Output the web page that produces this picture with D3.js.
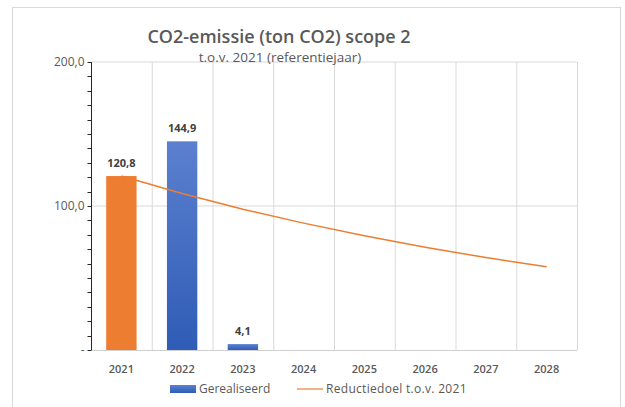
<!DOCTYPE html>
<html>
<head>
<meta charset="utf-8">
<script src="https://cdn.jsdelivr.net/npm/d3@7"></script>
<style>
  html, body { margin: 0; padding: 0; background: #fff; }
  svg { display: block; font-family: "Open Sans", "DejaVu Sans", sans-serif; }
</style>
</head>
<body>
<div id="chart"></div>
<script>
// chart data
const years = ['2021', '2022', '2023', '2024', '2025', '2026', '2027', '2028'];
const realised = [120.8, 144.9, 4.1, null, null, null, null, null];
const target = [120.8, 108.7, 97.8, 88.1, 79.3, 71.3, 64.2, 57.8];
const yTicks = [0, 100, 200];
const yMinorTicks = d3.range(0, 201, 10);

const W = 625, H = 407;
const margin = { top: 62, right: 48, bottom: 57, left: 91 };
const w = W - margin.left - margin.right;
const h = H - margin.top - margin.bottom;

const svg = d3.select('#chart').append('svg')
    .attr('width', W)
    .attr('height', H);

// blue bar gradient
const defs = svg.append('defs');
const grad = defs.append('linearGradient')
    .attr('id', 'blueGrad')
    .attr('x1', 0).attr('y1', 0).attr('x2', 0).attr('y2', 1);
grad.append('stop').attr('offset', '0%').attr('stop-color', '#5b80cf');
grad.append('stop').attr('offset', '100%').attr('stop-color', '#2f5cb6');

// outer frame
svg.append('rect')
    .attr('x', 12.5).attr('y', 7.5)
    .attr('width', 608).attr('height', H + 10)
    .attr('fill', 'none')
    .attr('stroke', '#d9d9d9');

const g = svg.append('g').attr('transform', `translate(${margin.left},${margin.top})`);

const x = d3.scaleBand().domain(years).range([0, w]).paddingInner(0.5).paddingOuter(0.25);
const xCat = d3.scaleBand().domain(years).range([0, w]).padding(0);
const y = d3.scaleLinear().domain([0, 200]).range([h, 0]);

// gridlines
g.append('g').selectAll('line.hgrid')
    .data(yTicks.filter(d => d > 0))
    .join('line')
    .attr('x1', 0).attr('x2', w)
    .attr('y1', d => y(d)).attr('y2', d => y(d))
    .attr('stroke', '#d9d9d9').attr('stroke-width', 1);

g.append('g').selectAll('line.vgrid')
    .data(years.slice(1).concat(['end']))
    .join('line')
    .attr('x1', (d, i) => xCat.step() * (i + 1) + 0.5)
    .attr('x2', (d, i) => xCat.step() * (i + 1) + 0.5)
    .attr('y1', 0).attr('y2', h)
    .attr('stroke', '#d9d9d9').attr('stroke-width', 1);

// bottom axis line
g.append('line')
    .attr('x1', 0).attr('x2', w)
    .attr('y1', h + 0.5).attr('y2', h + 0.5)
    .attr('stroke', '#d0d0d0');

// y axis with minor ticks
const yAxisG = g.append('g').attr('transform', 'translate(0.5,0)');
yAxisG.append('line')
    .attr('x1', 0).attr('x2', 0)
    .attr('y1', 0).attr('y2', h)
    .attr('stroke', '#262626').attr('stroke-width', 1);
yAxisG.selectAll('line.minor')
    .data(yMinorTicks)
    .join('line')
    .attr('x1', -4).attr('x2', 0)
    .attr('y1', d => Math.round(y(d)) + 0.5).attr('y2', d => Math.round(y(d)) + 0.5)
    .attr('stroke', '#262626');

yAxisG.selectAll('text.ylab')
    .data(yTicks)
    .join('text')
    .attr('x', -7)
    .attr('y', d => y(d))
    .attr('dy', '0.35em')
    .attr('text-anchor', 'end')
    .attr('font-size', 12)
    .attr('fill', '#595959')
    .text(d => d === 0 ? '-' : d3.format('.1f')(d).replace('.', ','));

// x labels
g.selectAll('text.xlab')
    .data(years)
    .join('text')
    .attr('x', d => xCat(d) + xCat.bandwidth() / 2)
    .attr('y', h + 23)
    .attr('text-anchor', 'middle')
    .attr('font-size', 11)
    .attr('font-weight', 600)
    .attr('fill', '#595959')
    .text(d => d);

// bars
const barData = years.map((yr, i) => ({ yr, v: realised[i] })).filter(d => d.v !== null);
g.selectAll('rect.bar')
    .data(barData)
    .join('rect')
    .attr('x', d => x(d.yr))
    .attr('y', d => y(d.v))
    .attr('width', x.bandwidth())
    .attr('height', d => h - y(d.v))
    .attr('fill', d => d.yr === '2021' ? '#ed7d31' : 'url(#blueGrad)');

g.selectAll('text.vlab')
    .data(barData)
    .join('text')
    .attr('x', d => x(d.yr) + x.bandwidth() / 2)
    .attr('y', d => y(d.v) - 9)
    .attr('text-anchor', 'middle')
    .attr('font-size', 11)
    .attr('font-weight', 700)
    .attr('fill', '#404040')
    .text(d => d3.format('.1f')(d.v).replace('.', ','));

// target line
const line = d3.line()
    .x((d, i) => xCat(years[i]) + xCat.bandwidth() / 2)
    .y(d => y(d));
g.append('path')
    .datum(target)
    .attr('fill', 'none')
    .attr('stroke', '#ed7d31')
    .attr('stroke-width', 1.5)
    .attr('d', line);

// title
svg.append('text')
    .attr('x', 279).attr('y', 43)
    .attr('text-anchor', 'middle')
    .attr('font-size', 18)
    .attr('font-weight', 600)
    .attr('fill', '#595959')
    .text('CO2-emissie (ton CO2) scope 2');
svg.append('text')
    .attr('x', 280).attr('y', 62)
    .attr('text-anchor', 'middle')
    .attr('font-size', 13.5)
    .attr('fill', '#595959')
    .text('t.o.v. 2021 (referentiejaar)');

// legend
const leg = svg.append('g').attr('transform', 'translate(0,389)');
leg.append('rect')
    .attr('x', 170).attr('y', -4).attr('width', 26).attr('height', 8)
    .attr('fill', 'url(#blueGrad)');
leg.append('text')
    .attr('x', 199).attr('y', 0).attr('dy', '0.35em')
    .attr('font-size', 12).attr('fill', '#595959')
    .text('Gerealiseerd');
leg.append('line')
    .attr('x1', 297).attr('x2', 323).attr('y1', 0).attr('y2', 0)
    .attr('stroke', '#f4b183').attr('stroke-width', 2);
leg.append('text')
    .attr('x', 326).attr('y', 0).attr('dy', '0.35em')
    .attr('font-size', 12).attr('fill', '#595959')
    .attr('letter-spacing', 0.3)
    .text('Reductiedoel t.o.v. 2021');
</script>
</body>
</html>
